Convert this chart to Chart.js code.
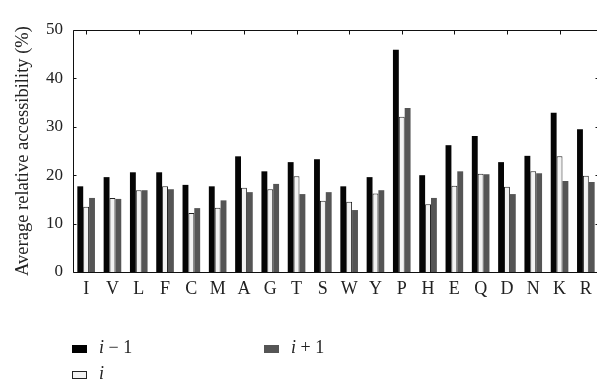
<!doctype html>
<html lang="en">
<head>
	<meta charset="utf-8">
	<title>Average relative accessibility</title>
	<script src="https://cdn.jsdelivr.net/npm/chart.js"></script>
	<style>
		body { margin: 0; overflow: hidden; background: #fff; }
		#wrap { position: relative; width: 600px; height: 381px; }
		.legend { position: absolute; font-family: "Liberation Serif", serif; font-size: 18px; color: #222; white-space: nowrap; }
		.legend span.box { position: absolute; left: 0; width: 15px; height: 8px; box-sizing: border-box; }
		.legend span.txt { position: absolute; left: 27px; top: -8px; line-height: 20px; }
	</style>
</head>
<body>
	<div id="wrap">
		<canvas id="myChart"></canvas>
		<div class="legend" style="left:72px; top:345px;"><span class="box" style="background:#000"></span><span class="txt"><i>i</i> &minus; 1</span></div>
		<div class="legend" style="left:72px; top:371px;"><span class="box" style="background:#f2f2f2; border:1px solid #222"></span><span class="txt"><i>i</i></span></div>
		<div class="legend" style="left:264px; top:345px;"><span class="box" style="background:#555"></span><span class="txt"><i>i</i> + 1</span></div>
	</div>

	<script>
		// residues along the x axis
		const residues = ["I", "V", "L", "F", "C", "M", "A", "G", "T", "S", "W", "Y", "P", "H", "E", "Q", "D", "N", "K", "R"];
		// average relative accessibility (%) at positions i-1, i, i+1
		const prevValues = [17.7, 19.6, 20.6, 20.6, 18.0, 17.7, 23.9, 20.8, 22.7, 23.3, 17.7, 19.6, 45.9, 20.0, 26.2, 28.1, 22.7, 24.0, 32.9, 29.5];
		const selfValues = [13.5, 15.3, 16.9, 17.7, 12.2, 13.3, 17.4, 17.1, 19.8, 14.7, 14.5, 16.2, 32.1, 14.0, 17.8, 20.3, 17.6, 20.8, 23.9, 19.9];
		const nextValues = [15.3, 15.1, 16.9, 17.1, 13.2, 14.8, 16.5, 18.2, 16.1, 16.5, 12.8, 16.9, 33.9, 15.3, 20.8, 20.2, 16.1, 20.4, 18.8, 18.6];
		const yTicks = [0, 10, 20, 30, 40, 50];

		// frame and inward tick marks
		const framePlugin = {
			id: 'frame',
			afterDraw(chart) {
				const ctx = chart.ctx;
				const a = chart.chartArea;
				const x = chart.scales.x;
				const y = chart.scales.y;
				const L = Math.round(a.left) + 0.5, R = Math.round(a.right) - 0.5;
				const T = Math.round(a.top) + 0.5, B = Math.round(a.bottom) + 0.5;
				ctx.save();
				ctx.strokeStyle = '#111';
				ctx.lineWidth = 1;
				ctx.beginPath();
				ctx.moveTo(L, T); ctx.lineTo(R, T); ctx.lineTo(R, B); ctx.lineTo(L, B); ctx.closePath();
				for (const v of yTicks) {
					const py = Math.round(y.getPixelForValue(v)) + 0.5;
					ctx.moveTo(L, py); ctx.lineTo(L + 3, py);
					ctx.moveTo(R, py); ctx.lineTo(R - 3, py);
				}
				for (let i = 0; i < residues.length; i += 2) {
					const px = Math.round(x.getPixelForValue(i)) + 0.5;
					ctx.moveTo(px, T); ctx.lineTo(px, T + 4);
				}
				ctx.stroke();
				ctx.restore();
			}
		};

		const serif = "'Liberation Serif', 'Times New Roman', serif";
		const ctx = document.getElementById('myChart').getContext('2d');
		const myChart = new Chart(ctx, {
			type: 'bar',
			data: {
				labels: residues,
				datasets: [
					{ label: 'i − 1', data: prevValues, backgroundColor: '#050505', borderWidth: 0 },
					{ label: 'i', data: selfValues, backgroundColor: '#f2f2f2', borderColor: '#222', borderWidth: 1 },
					{ label: 'i + 1', data: nextValues, backgroundColor: '#555555', borderWidth: 0 }
				]
			},
			options: {
				responsive: true,
				maintainAspectRatio: false,
				animation: false,
				layout: { padding: { top: 30, right: 1, left: 0, bottom: 0 } },
				datasets: { bar: { categoryPercentage: 0.67, barPercentage: 1.0 } },
				plugins: { legend: { display: false }, tooltip: { enabled: false } },
				scales: {
					x: {
						grid: { display: false, drawTicks: false },
						border: { display: false },
						ticks: { color: '#222', font: { family: serif, size: 18 }, padding: 6, autoSkip: false, maxRotation: 0 },
						afterFit(scale) { scale.height = 109; }
					},
					y: {
						min: 0,
						max: 50,
						grid: { display: false, drawTicks: false },
						border: { display: false },
						ticks: { stepSize: 10, color: '#222', font: { family: serif, size: 17 }, padding: 10 },
						title: {
							display: true,
							text: 'Average relative accessibility (%)',
							color: '#222',
							font: { family: serif, size: 18.5 },
							padding: { top: 12, bottom: 0 }
						},
						afterFit(scale) { scale.width = 73; }
					}
				}
			},
			plugins: [framePlugin]
		});
	</script>
</body>
</html>
